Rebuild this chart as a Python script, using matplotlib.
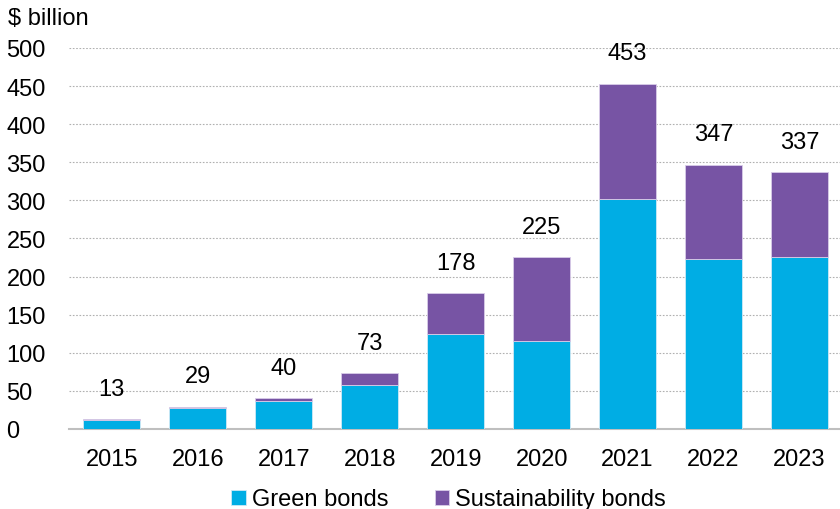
import matplotlib.pyplot as plt
import numpy as np

plt.rcParams['font.family'] = ['Liberation Sans', 'DejaVu Sans']

# data ($ billion)
years = ['2015', '2016', '2017', '2018', '2019', '2020', '2021', '2022', '2023']
green = [12, 28, 37, 58, 124, 115, 302, 223, 226]
sustainability = [1, 1, 3, 15, 54, 110, 151, 124, 111]
totals = [13, 29, 40, 73, 178, 225, 453, 347, 337]

green_col = '#00ade4'
purple_col = '#7754a4'
fs = 17

fig = plt.figure(figsize=(8.4, 5.1), dpi=100)
ax = fig.add_axes([0.082, 0.157, 0.921, 0.747])

x = np.arange(len(years))
ax.bar(x, green, width=0.66, color=green_col, edgecolor='#cfe9f5', linewidth=0.6,
       label='Green bonds', zorder=3)
ax.bar(x, sustainability, width=0.66, bottom=green, color=purple_col,
       edgecolor='#d9cce8', linewidth=0.6, label='Sustainability bonds', zorder=3)

# totals above the bars
for xi, t in zip(x, totals):
    ax.annotate(str(t), (xi, t), xytext=(0, 14), textcoords='offset points',
                ha='center', va='bottom', fontsize=fs)

ax.set_xlim(-0.5, 8.5)
ax.set_ylim(0, 500)
ax.set_yticks(range(0, 501, 50))
ax.set_xticks(x)
ax.set_xticklabels(years)
ax.tick_params(axis='both', length=0, labelsize=fs)
ax.tick_params(axis='x', pad=14)
ax.tick_params(axis='y', pad=45)
for lbl in ax.get_yticklabels():
    lbl.set_horizontalalignment('left')

ax.yaxis.grid(True, linestyle=(0, (1.5, 1.5)), color='#b0b0b0', linewidth=0.8, zorder=0)
for side in ['top', 'right', 'left']:
    ax.spines[side].set_visible(False)
ax.spines['bottom'].set_color('#bfbfbf')
ax.spines['bottom'].set_linewidth(1.5)

fig.text(0.01, 0.962, '$ billion', fontsize=fs, ha='left', va='center')

ax.legend(loc='center', bbox_to_anchor=(0.491, -0.185), ncol=2, frameon=False,
          fontsize=fs, handlelength=0.6, handleheight=0.6, handletextpad=0.25,
          columnspacing=2.0)

fig.savefig('out.png', dpi=100)
